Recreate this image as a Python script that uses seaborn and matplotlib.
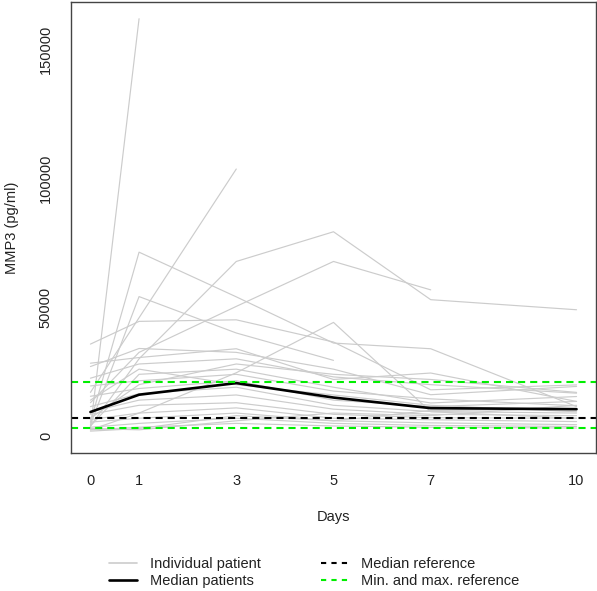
import numpy as np
import pandas as pd
import matplotlib
matplotlib.use("Agg")
import matplotlib.pyplot as plt
from matplotlib.lines import Line2D
import seaborn as sns

# ---------------- data ----------------
days = [0, 1, 3, 5, 7, 10]
nan = np.nan
patients = [f"P{i:02d}" for i in range(1, 26)]
mmp3_day0 = [3000, 17000, 5500, 4500, 35700, 4000, 13000, 2500, 28300, 27000, 22500, 4000, 19500,
             15500, 11500, 9500, 8500, 6500, 5500, 3500, 2500, 3000, 2000, 7000, 14000]
mmp3_day1 = [161700, 45900, 71300, 54100, 44500, 30000, 32500, 9000, 30500, 34000, 28000, 24000, 21500,
             18500, 16500, 14000, 12000, 9000, 7000, 5000, 3500, 2500, 3000, 20000, 26000]
mmp3_day3 = [nan, 103500, 54000, 40000, 45100, 67700, 50300, 24600, 33900, 32500, 30000, 26000, 24000,
             21500, 19000, 16000, 13000, 11000, 9000, 7000, 5000, 6000, 8000, 28000, 20000]
mmp3_day5 = [nan, nan, 36100, 29400, 36500, 79200, 67700, 44100, 22000, 26000, 23000, 19000, 17500,
             14000, 12000, 10500, 8500, 7000, 6000, 5000, 4000, 9000, 6000, 24000, 16000]
mmp3_day7 = [nan, nan, 33900, nan, 18000, 52900, 56700, 9500, 24500, 16100, 20000, 12900, 14500,
             11500, 9600, 8500, 7200, 6400, 5200, 4200, 3500, 8000, 10000, 22000, 12000]
mmp3_day10 = [nan, nan, 11500, nan, 19900, 49000, nan, 7000, 13500, 19300, 16700, 15400, 11800,
              13500, 9000, 8000, 7000, 5700, 4500, 3800, 3200, 12000, 10500, 17000, 9500]

median_patients = [9400, 16100, 20600, 15000, 10900, 10500]
median_reference = 7050
min_reference = 3400
max_reference = 21000

x_ticks = [0, 1, 3, 5, 7, 10]
y_ticks = [0, 50000, 100000, 150000]
legend_labels = ["Individual patient", "Median patients", "Median reference", "Min. and max. reference"]

# ---------------- build long table ----------------
cols = [mmp3_day0, mmp3_day1, mmp3_day3, mmp3_day5, mmp3_day7, mmp3_day10]
rows = []
for j, d in enumerate(days):
    for i, p in enumerate(patients):
        rows.append({"patient": p, "day": d, "value": cols[j][i]})
df = pd.DataFrame(rows).dropna()
med_df = pd.DataFrame({"day": days, "value": median_patients})

# ---------------- plot ----------------
sns.set_style("white")
plt.rcParams["font.family"] = ["Liberation Sans", "DejaVu Sans"]

W, H = 597, 591
fig = plt.figure(figsize=(W / 100, H / 100), dpi=100)
ax = fig.add_axes([71 / W, 1 - 453 / H, (596 - 71) / W, (453 - 2) / H])

gray = "#cccccc"
green = "#00ee00"
sns.lineplot(data=df, x="day", y="value", units="patient", estimator=None,
             color=gray, linewidth=0.85, ax=ax, legend=False, sort=True)
sns.lineplot(data=med_df, x="day", y="value", color="black", linewidth=1.9, ax=ax, legend=False)

dash = (0, (3.4, 2.4))
ax.axhline(median_reference, color="black", linewidth=1.5, linestyle=dash)
ax.axhline(min_reference, color=green, linewidth=1.5, linestyle=dash)
ax.axhline(max_reference, color=green, linewidth=1.5, linestyle=dash)

ax.set_xlim(-0.4, 10.4)
ax.set_ylim(-6470, 168170)
ax.set_xticks(x_ticks)
ax.set_xticklabels([str(t) for t in x_ticks])
ax.set_yticks(y_ticks)
ax.set_yticklabels([str(t) for t in y_ticks], rotation=90, va="center")

for s in ax.spines.values():
    s.set_visible(True)
    s.set_color("#444444")
    s.set_linewidth(1.0)

ax.tick_params(axis="both", which="major", direction="out", length=6, width=0.9,
               color="#444444", labelsize=10.5, labelcolor="#222222")
ax.tick_params(axis="x", pad=9)
ax.tick_params(axis="y", pad=7)

ax.set_xlabel("Days", fontsize=10.5, color="#222222", labelpad=16)
ax.set_ylabel("MMP3 (pg/ml)", fontsize=10.5, color="#222222", labelpad=14)

handles = [
    Line2D([], [], color=gray, linewidth=1.2),
    Line2D([], [], color="black", linewidth=1.9),
    Line2D([], [], color="black", linewidth=1.5, linestyle=(0, (2.5, 2.5))),
    Line2D([], [], color=green, linewidth=1.5, linestyle=(0, (2.5, 2.5))),
]
fig.legend(handles, legend_labels,
           ncol=2, loc="upper left", bbox_to_anchor=(109 / W, 1 - 557 / H),
           frameon=False, fontsize=10.5, handlelength=1.9, handletextpad=0.9,
           columnspacing=4.1, labelspacing=0.2, borderpad=0, borderaxespad=0,
           labelcolor="#222222")

fig.savefig("out.png", dpi=100)
